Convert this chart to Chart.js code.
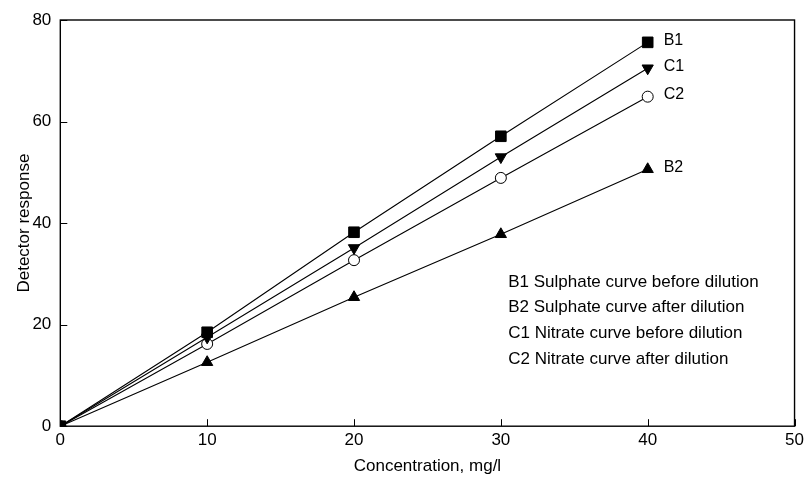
<!DOCTYPE html>
<html>
<head>
<meta charset="utf-8">
<script src="https://cdn.jsdelivr.net/npm/chart.js@4/dist/chart.umd.min.js"></script>
<style>
  html, body { margin: 0; padding: 0; background: #fff; }
  #wrap { width: 808px; height: 477px; position: relative; }
</style>
</head>
<body>
<div id="wrap"><canvas id="chart"></canvas></div>
<script>
(function () {
  'use strict';

  // concentration, mg/l
  const concentration = [0, 10, 20, 30, 40];
  // detector response per curve
  const b1Values = [0, 18.5, 38.2, 57.1, 75.6];
  const c1Values = [0, 17.5, 35.1, 53.0, 70.5];
  const c2Values = [0, 16.2, 32.7, 48.9, 64.9];
  const b2Values = [0, 12.6, 25.4, 37.8, 50.6];
  const seriesNames = ['B1', 'C1', 'C2', 'B2'];
  const noteLines = [
    'B1 Sulphate curve before dilution',
    'B2 Sulphate curve after dilution',
    'C1 Nitrate curve before dilution',
    'C2 Nitrate curve after dilution'
  ];
  const xTicks = [0, 10, 20, 30, 40, 50];
  const yTicks = [0, 20, 40, 60, 80];

  const FONT = 'Liberation Sans, Arial, Helvetica, sans-serif';

  function toPoints(vals) {
    return concentration.map(function (x, i) { return { x: x, y: vals[i] }; });
  }

  function ds(label, vals, style, rotation, fill, radius) {
    return {
      label: label,
      data: toPoints(vals),
      borderColor: '#000',
      borderWidth: 1.1,
      pointStyle: style,
      rotation: rotation,
      pointRadius: radius,
      pointBackgroundColor: fill,
      pointBorderColor: '#000',
      pointBorderWidth: 1,
      tension: 0,
      fill: false
    };
  }

  // box round the plot, inward ticks, end labels and notes
  const framePlugin = {
    id: 'frame',
    afterDatasetsDraw: function (chart) {
      const ctx = chart.ctx;
      const a = chart.chartArea;
      const xs = chart.scales.x;
      const ys = chart.scales.y;
      ctx.save();
      ctx.strokeStyle = '#000';
      ctx.lineWidth = 1.4;
      ctx.strokeRect(a.left, a.top, a.right - a.left, a.bottom - a.top);
      ctx.lineWidth = 1;
      ctx.beginPath();
      xTicks.forEach(function (v) {
        const px = Math.round(xs.getPixelForValue(v)) + 0.5;
        ctx.moveTo(px, a.bottom);
        ctx.lineTo(px, a.bottom - 7);
      });
      yTicks.forEach(function (v) {
        const py = Math.round(ys.getPixelForValue(v)) + 0.5;
        ctx.moveTo(a.left, py);
        ctx.lineTo(a.left + 7, py);
      });
      ctx.stroke();

      // series labels next to last point
      ctx.fillStyle = '#000';
      ctx.font = '16px ' + FONT;
      ctx.textBaseline = 'middle';
      ctx.textAlign = 'left';
      chart.data.datasets.forEach(function (d, i) {
        const meta = chart.getDatasetMeta(i);
        const last = meta.data[meta.data.length - 1];
        ctx.fillText(seriesNames[i], last.x + 16, last.y - 2);
      });

      // notes block
      ctx.font = '17px ' + FONT;
      const nx = xs.getPixelForValue(30.5);
      let ny = ys.getPixelForValue(28.4);
      const step = ys.getPixelForValue(0) - ys.getPixelForValue(5.06);
      noteLines.forEach(function (t) {
        ctx.fillText(t, nx, ny);
        ny += step;
      });
      ctx.restore();
    }
  };

  new Chart(document.getElementById('chart'), {
    type: 'line',
    data: {
      datasets: [
        ds('B1', b1Values, 'rect', 0, '#000', 7.5),
        ds('C1', c1Values, 'triangle', 180, '#000', 6.5),
        ds('C2', c2Values, 'circle', 0, '#fff', 5.5),
        ds('B2', b2Values, 'triangle', 0, '#000', 6.5)
      ]
    },
    options: {
      responsive: true,
      maintainAspectRatio: false,
      animation: false,
      layout: { autoPadding: false, padding: { left: 2, right: 11, top: 20, bottom: 0 } },
      plugins: {
        legend: { display: false },
        tooltip: { enabled: false }
      },
      scales: {
        x: {
          type: 'linear',
          min: 0,
          max: 50,
          afterBuildTicks: function (s) { s.ticks = xTicks.map(function (v) { return { value: v }; }); },
          grid: { display: false, drawTicks: false },
          border: { display: false },
          ticks: { color: '#000', font: { family: FONT, size: 17 }, padding: 4 },
          title: { display: true, text: 'Concentration, mg/l', color: '#000', font: { family: FONT, size: 17 }, padding: { top: 2, bottom: 0 } }
        },
        y: {
          type: 'linear',
          min: 0,
          max: 80,
          afterBuildTicks: function (s) { s.ticks = yTicks.map(function (v) { return { value: v }; }); },
          grid: { display: false, drawTicks: false },
          border: { display: false },
          ticks: { color: '#000', font: { family: FONT, size: 17 }, padding: 9 },
          title: { display: true, text: 'Detector response', color: '#000', font: { family: FONT, size: 17 }, padding: { top: 12, bottom: -11 } }
        }
      }
    },
    plugins: [framePlugin]
  });
})();
</script>
</body>
</html>
